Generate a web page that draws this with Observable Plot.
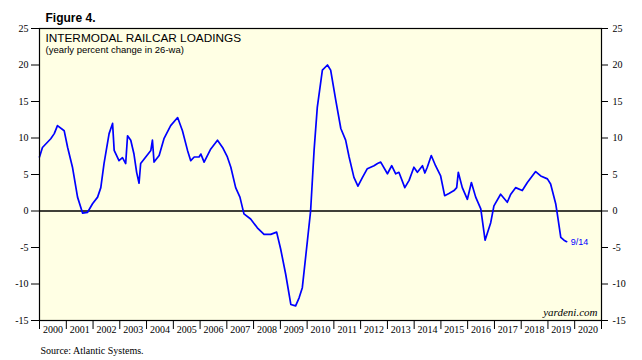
<!DOCTYPE html>
<html><head><meta charset="utf-8">
<script src="https://cdn.jsdelivr.net/npm/d3@7"></script>
<script src="https://cdn.jsdelivr.net/npm/@observablehq/plot@0.6"></script>
<style>body{margin:0;background:#fff}</style>
</head><body><div id="chart"></div>
<script>
// decimal year of each reading
const t = [2000.00,2000.11,2000.42,2000.55,2000.67,2000.92,2001.05,2001.23,2001.42,2001.61,2001.79,2001.98,
 2002.17,2002.29,2002.41,2002.60,2002.73,2002.79,2002.97,2003.10,2003.22,2003.29,2003.41,2003.53,2003.63,2003.72,
 2003.78,2003.97,2004.16,2004.22,2004.28,2004.47,2004.65,2004.90,2005.16,2005.34,2005.53,2005.65,2005.78,2005.96,
 2006.03,2006.15,2006.40,2006.65,2006.84,2007.02,2007.15,2007.33,2007.49,2007.64,2007.89,2008.14,2008.39,2008.64,
 2008.86,2009.01,2009.20,2009.39,2009.57,2009.70,2009.82,2010.01,2010.13,2010.26,2010.38,2010.57,2010.76,2010.88,
 2011.07,2011.26,2011.44,2011.57,2011.75,2011.90,2012.07,2012.25,2012.50,2012.63,2012.75,2013.00,2013.16,2013.31,
 2013.43,2013.65,2013.81,2013.99,2014.12,2014.31,2014.40,2014.49,2014.64,2014.80,2014.99,2015.14,2015.30,2015.49,
 2015.59,2015.65,2015.80,2015.99,2016.14,2016.30,2016.49,2016.65,2016.86,2016.98,2017.23,2017.48,2017.61,2017.79,
 2018.04,2018.23,2018.54,2018.73,2018.98,2019.10,2019.29,2019.35,2019.48,2019.60,2019.70];
// yearly percent change in 26-wa
const v = [7.4,8.7,9.9,10.6,11.7,11.0,8.7,6.0,1.9,-0.3,-0.2,1.0,
 1.9,3.2,6.5,10.6,12.0,8.3,6.9,7.3,6.5,10.3,9.7,7.8,5.3,3.8,
 6.5,7.4,8.3,9.7,6.7,7.6,9.9,11.7,12.8,11.0,8.3,6.9,7.4,7.4,
 7.8,6.7,8.5,9.7,8.7,7.4,6.0,3.2,1.9,-0.4,-1.1,-2.3,-3.2,-3.2,
 -2.9,-5.2,-8.7,-12.8,-13.0,-11.9,-10.5,-4.1,0.0,8.3,14.2,19.3,20.0,19.3,
 15.2,11.3,9.7,7.4,4.6,3.4,4.6,5.8,6.2,6.5,6.7,5.1,6.2,5.1,
 5.3,3.2,4.2,6.0,5.3,6.2,5.2,6.0,7.6,6.2,4.8,2.1,2.4,2.8,
 3.2,5.3,3.2,1.6,3.9,1.9,0.3,-4.0,-1.6,0.7,2.3,1.2,2.3,3.2,
 2.8,3.9,5.4,4.8,4.4,3.7,1.0,-0.4,-3.6,-4.0,-4.2];
const yTicks = [-15,-10,-5,0,5,10,15,20,25];
const years = d3.range(2000, 2021);
const lastLabel = "9/14";
const figureLabel = "Figure 4.";
const titleText = "INTERMODAL RAILCAR LOADINGS";
const subtitleText = "(yearly percent change in 26-wa)";
const sourceText = "Source: Atlantic Systems.";
const brand = "yardeni.com";

function toDate(x) {
  const y = Math.floor(x);
  const s = Date.UTC(y, 0, 1), e = Date.UTC(y + 1, 0, 1);
  return new Date(s + (x - y) * (e - s));
}
const data = t.map((d, i) => ({date: toDate(d), value: v[i]}));
const last = data[data.length - 1];
const bounds = d3.range(2000, 2022).map(y => new Date(Date.UTC(y, 0, 1)));
const mids = years.map(y => new Date(Date.UTC(y, 6, 2)));
const sans = "'Liberation Sans', Arial, Helvetica, sans-serif";

const chart = Plot.plot({
  width: 642, height: 360,
  marginLeft: 39, marginRight: 41, marginTop: 28, marginBottom: 40,
  x: {type: "utc", domain: [bounds[0], bounds[bounds.length - 1]]},
  y: {domain: [-15, 25]},
  style: {fontFamily: "'Liberation Serif', 'Times New Roman', serif", fontSize: "10px", background: "#fff", color: "#000", overflow: "visible"},
  marks: [
    Plot.frame({fill: "#ffffe4", stroke: null}),
    Plot.ruleY([0], {stroke: "#000", strokeWidth: 1.4}),
    Plot.line(data, {x: "date", y: "value", stroke: "#0000ff", strokeWidth: 1.7}),
    Plot.text([last], {x: "date", y: "value", text: () => lastLabel, dx: 4, textAnchor: "start", fill: "#0000ff", fontFamily: sans, fontSize: 9}),
    Plot.frame({stroke: "#000", strokeWidth: 1.2}),
    Plot.axisY({anchor: "left", ticks: yTicks, tickSize: 8, tickPadding: 3, tickFormat: d => String(d), label: null}),
    Plot.axisY({anchor: "right", ticks: yTicks, tickSize: 6, tickPadding: 5, tickFormat: d => String(d), label: null}),
    Plot.axisX({ticks: bounds, tickSize: 9, tickFormat: () => "", label: null}),
    Plot.axisX({ticks: mids, tickSize: 0, tickPadding: 5, tickFormat: d => String(d.getUTCFullYear()), label: null}),
    Plot.text([titleText], {frameAnchor: "top-left", text: d => d, dx: 6, dy: 13, lineAnchor: "bottom", textAnchor: "start", fontFamily: sans, fontSize: 11.8, fill: "#000"}),
    Plot.text([subtitleText], {frameAnchor: "top-left", text: d => d, dx: 6, dy: 24, lineAnchor: "bottom", textAnchor: "start", fontFamily: sans, fontSize: 9.5}),
    Plot.text([figureLabel], {frameAnchor: "top-left", text: d => d, dx: 6, dy: -7, lineAnchor: "bottom", textAnchor: "start", fontFamily: sans, fontSize: 12, fontWeight: "bold"}),
    Plot.text([brand], {frameAnchor: "bottom-right", text: d => d, dx: -4, dy: -5, lineAnchor: "bottom", textAnchor: "end", fontStyle: "italic", fontSize: 11}),
    Plot.text([sourceText], {frameAnchor: "bottom-left", text: d => d, dx: 1, dy: 33, lineAnchor: "bottom", textAnchor: "start", fontSize: 10})
  ]
});
document.getElementById("chart").appendChild(chart);
</script>
</body></html>
